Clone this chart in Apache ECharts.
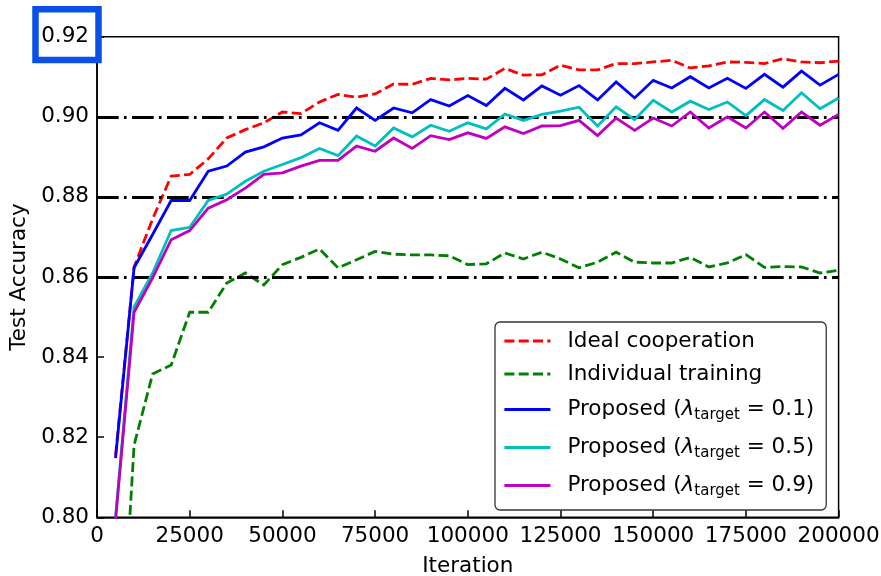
<!DOCTYPE html>
<html><head><meta charset="utf-8">
<script src="https://cdn.jsdelivr.net/npm/echarts@6/dist/echarts.min.js"></script>
<style>html,body{margin:0;padding:0;background:#fff}#c{width:881px;height:576px}</style>
</head><body><div id="c"></div>
<script>
const iterations = [5000,10000,15000,20000,25000,30000,35000,40000,45000,50000,
  55000,60000,65000,70000,75000,80000,85000,90000,95000,100000,
  105000,110000,115000,120000,125000,130000,135000,140000,145000,150000,
  155000,160000,165000,170000,175000,180000,185000,190000,195000,200000];

const idealCooperation = [0.8155,0.8625,0.8745,0.8852,0.8856,0.8895,0.8947,0.8968,0.8985,0.9012,
  0.9008,0.9037,0.9056,0.9049,0.9057,0.9082,0.9081,0.9096,0.9092,0.9096,
  0.9094,0.9121,0.9104,0.9105,0.9129,0.9117,0.9117,0.9133,0.9133,0.9137,
  0.9141,0.9122,0.9127,0.9137,0.9136,0.9133,0.9145,0.9137,0.9135,0.9139];

const individualTraining = [0.740,0.818,0.8358,0.838,0.8512,0.8512,0.8585,0.861,0.858,0.8631,
  0.8649,0.867,0.8623,0.8643,0.8664,0.8657,0.8655,0.8655,0.8653,0.8631,
  0.8633,0.866,0.8645,0.8662,0.8645,0.8623,0.8637,0.8662,0.8637,0.8635,
  0.8635,0.8649,0.8625,0.8635,0.8656,0.8624,0.8626,0.8625,0.861,0.8617];

const proposed01 = [0.8148,0.8623,0.8706,0.8791,0.8791,0.8864,0.8877,0.8912,0.8925,0.8947,
  0.8955,0.8985,0.8966,0.9022,0.8991,0.9022,0.9010,0.9043,0.9027,0.9053,
  0.9028,0.9071,0.9042,0.9077,0.9054,0.9078,0.9042,0.9087,0.9047,0.9091,
  0.9072,0.9100,0.9072,0.9096,0.9071,0.9106,0.9074,0.9114,0.9079,0.9106];

const proposed05 = [0.800,0.8525,0.861,0.8716,0.8724,0.8791,0.8807,0.8839,0.8864,0.8881,
  0.8898,0.8921,0.8903,0.8952,0.8927,0.8972,0.8950,0.8979,0.8964,0.8985,
  0.8970,0.9007,0.8991,0.9006,0.9014,0.9024,0.8977,0.9025,0.8993,0.9041,
  0.9012,0.9039,0.9018,0.9037,0.9003,0.9043,0.9016,0.9060,0.9020,0.9047];

const proposed09 = [0.7993,0.8512,0.8598,0.8693,0.8716,0.8772,0.8793,0.8822,0.8856,0.8860,
  0.8877,0.8891,0.8891,0.8927,0.8914,0.8947,0.8921,0.8953,0.8943,0.8960,
  0.8946,0.8975,0.8958,0.8977,0.8978,0.8991,0.8953,0.8997,0.8966,0.8997,
  0.8977,0.9012,0.8972,0.9000,0.8972,0.9012,0.8971,0.9012,0.8979,0.9006];

const seriesNames = ['Ideal cooperation','Individual training',
  'Proposed (λ_target = 0.1)','Proposed (λ_target = 0.5)','Proposed (λ_target = 0.9)'];
const referenceLevels = [0.86, 0.88, 0.90];
const highlightedTick = 0.92;

const xAxisRange = {min: 0, max: 200000, interval: 25000};
const yAxisRange = {min: 0.80, max: 0.92, interval: 0.02};

const FONT = 'DejaVu Sans';
const FS = 21.5;

function pairs(vals){ return iterations.map((x,i)=>[x, vals[i]]); }

const seriesDefs = [
  {data: idealCooperation, color: '#ff0000', dash: [10, 4.3]},
  {data: individualTraining, color: '#008000', dash: [10, 4.3]},
  {data: proposed01, color: '#0000ff', dash: 'solid'},
  {data: proposed05, color: '#00bfbf', dash: 'solid'},
  {data: proposed09, color: '#bf00bf', dash: 'solid'}
];

const series = seriesDefs.map((d, i) => ({
  name: seriesNames[i],
  type: 'line',
  data: pairs(d.data),
  symbol: 'none',
  showSymbol: false,
  z: 3 + i,
  clip: true,
  color: d.color,
  lineStyle: {color: d.color, width: 2.8, type: d.dash, cap: 'butt', join: 'miter'}
}));

series.push({
  name: 'ref',
  type: 'line',
  data: [],
  z: 2,
  markLine: {
    silent: true,
    symbol: ['none','none'],
    label: {show: false},
    animation: false,
    lineStyle: {color: '#000', width: 3, type: [21.7, 5.2, 2.7, 5.4], cap: 'butt'},
    emphasis: {disabled: true},
    data: referenceLevels.map(v => ({yAxis: v}))
  }
});

const chart = echarts.init(document.getElementById('c'), null, {renderer: 'canvas'});
chart.setOption({
  animation: false,
  backgroundColor: '#fff',
  textStyle: {fontFamily: FONT},
  grid: {left: 97, right: 42.4, top: 36.7, bottom: 58.7, containLabel: false, outerBoundsMode: 'none',
    show: true, borderColor: '#000', borderWidth: 1.5, backgroundColor: 'transparent'},
  xAxis: {
    type: 'value', min: xAxisRange.min, max: xAxisRange.max, interval: xAxisRange.interval,
    name: 'Iteration', nameLocation: 'middle', nameGap: 38,
    nameTextStyle: {fontFamily: FONT, fontSize: FS, color: '#000'},
    axisLine: {show: true, onZero: false, lineStyle: {color: '#000', width: 1.5}},
    axisTick: {show: true, inside: true, length: 7, lineStyle: {color: '#000', width: 1.5}},
    axisLabel: {fontFamily: FONT, fontSize: FS, color: '#000', margin: 8, showMaxLabel: true, showMinLabel: true,
      formatter: v => String(v)},
    splitLine: {show: false}
  },
  yAxis: {
    type: 'value', min: yAxisRange.min, max: yAxisRange.max, interval: yAxisRange.interval,
    name: 'Test Accuracy', nameLocation: 'middle', nameGap: 62,
    nameTextStyle: {fontFamily: FONT, fontSize: FS, color: '#000'},
    axisLine: {show: true, onZero: false, lineStyle: {color: '#000', width: 1.5}},
    axisTick: {show: true, inside: true, length: 7, lineStyle: {color: '#000', width: 1.5}},
    axisLabel: {fontFamily: FONT, fontSize: FS, color: '#000', margin: 8, showMaxLabel: true,
      formatter: v => v.toFixed(2)},
    splitLine: {show: false}
  },
  legend: {
    data: seriesNames,
    orient: 'vertical',
    left: 495, top: 322,
    padding: [8, 12, 11, 8],
    itemGap: 11,
    itemWidth: 46, itemHeight: 14,
    selectedMode: false,
    backgroundColor: 'rgba(255,255,255,0.85)',
    borderColor: '#333', borderWidth: 1.3, borderRadius: 5,
    itemStyle: {color: 'rgba(0,0,0,0)', borderColor: 'rgba(0,0,0,0)', borderWidth: 0, opacity: 0},
    lineStyle: {width: 2.8},
    textStyle: {
      fontFamily: FONT, fontSize: FS, color: '#000', padding: [0, 0, 0, 12],
      rich: {
        t: {fontFamily: FONT, fontSize: FS, color: '#000', lineHeight: 24},
        lam: {fontFamily: FONT, fontSize: FS, fontStyle: 'italic', color: '#000', lineHeight: 24},
        sub: {fontFamily: FONT, fontSize: 15, color: '#000', lineHeight: 15, padding: [12, 0, 0, 0]}
      }
    },
    formatter: function(name){
      const m = name.match(/^Proposed \(λ_target = (.*)\)$/);
      if (m) return '{t|Proposed (}{lam|λ}{sub|target}{t| = ' + m[1] + ')}';
      return '{t|' + name + '}';
    }
  },
  series: series
});

// highlight box around the 0.92 tick label, positioned from the axis scale
const yH = chart.convertToPixel({yAxisIndex: 0}, highlightedTick);
const x0 = chart.convertToPixel({xAxisIndex: 0}, xAxisRange.min);
chart.setOption({
  graphic: [{
    type: 'rect', z: 100, silent: true,
    shape: {x: x0 - 61.5, y: yH - 27.4, width: 63, height: 50.8},
    style: {fill: 'none', stroke: '#0a50e6', lineWidth: 6.5}
  }]
});
</script></body></html>
